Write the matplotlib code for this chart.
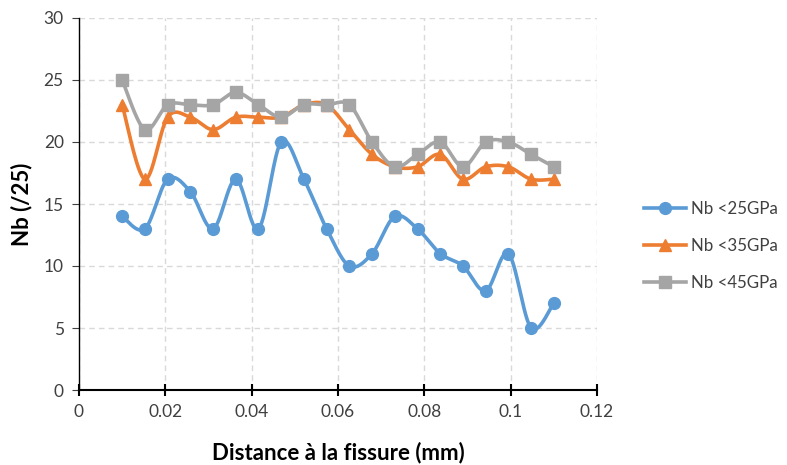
import numpy as np
import matplotlib
matplotlib.use("Agg")
import matplotlib.pyplot as plt

plt.rcParams['font.family'] = ['Lato', 'DejaVu Sans']

x_vals = np.linspace(0.01, 0.11, 20)
nb25 = [14, 13, 17, 16, 13, 17, 13, 20, 17, 13, 10, 11, 14, 13, 11, 10, 8, 11, 5, 7]
nb35 = [23, 17, 22, 22, 21, 22, 22, 22, 23, 23, 21, 19, 18, 18, 19, 17, 18, 18, 17, 17]
nb45 = [25, 21, 23, 23, 23, 24, 23, 22, 23, 23, 23, 20, 18, 19, 20, 18, 20, 20, 19, 18]
labels = ["Nb <25GPa", "Nb <35GPa", "Nb <45GPa"]
colors = ["#5B9BD5", "#ED7D31", "#A5A5A5"]
markers = ["o", "^", "s"]

xlim = (0, 0.12)
ylim = (0, 30)


def smooth(x, y, n=30):
    # Excel-like smoothing (cardinal Bezier) in normalized space
    x = np.asarray(x, float); y = np.asarray(y, float)
    sx = (x - xlim[0]) / (xlim[1] - xlim[0]) * 518
    sy = (y - ylim[0]) / (ylim[1] - ylim[0]) * 372
    P = np.column_stack([sx, sy])
    out = []
    t = np.linspace(0, 1, n)
    for i in range(len(P) - 1):
        p0 = P[i - 1] if i > 0 else P[i]
        p1 = P[i]
        p2 = P[i + 1]
        p3 = P[i + 2] if i + 2 < len(P) else P[i + 1]
        c1 = p1 + (p2 - p0) / 6
        c2 = p2 - (p3 - p1) / 6
        seg = ((1 - t)[:, None] ** 3 * p1 + 3 * ((1 - t) ** 2 * t)[:, None] * c1
               + 3 * ((1 - t) * t ** 2)[:, None] * c2 + (t ** 3)[:, None] * p2)
        out.append(seg if i == 0 else seg[1:])
    S = np.vstack(out)
    return (S[:, 0] / 518 * (xlim[1] - xlim[0]) + xlim[0],
            S[:, 1] / 372 * (ylim[1] - ylim[0]) + ylim[0])


fig = plt.figure(figsize=(7.87, 4.65), dpi=100)
ax = fig.add_axes([79 / 787, 1 - 390 / 465, (597 - 79) / 787, (390 - 18) / 465])

for ys, lab, c, m in zip([nb25, nb35, nb45], labels, colors, markers):
    sxv, syv = smooth(x_vals, ys)
    ax.plot(sxv, syv, color=c, lw=2.6, solid_capstyle='round', zorder=3)
    ax.plot(x_vals, ys, linestyle='none', marker=m, color=c, ms=8.5, zorder=4)
    ax.plot([], [], color=c, lw=2.6, marker=m, ms=8.5, label=lab)

ax.set_xlim(*xlim)
ax.set_ylim(*ylim)
ax.set_xticks(np.arange(0, 0.121, 0.02))
ax.set_xticklabels(["0", "0.02", "0.04", "0.06", "0.08", "0.1", "0.12"])
ax.set_yticks(np.arange(0, 31, 5))
ax.grid(True, color="#D9D9D9", linestyle=(0, (4, 3)), lw=1.0, zorder=0)
for s in ["top", "right"]:
    ax.spines[s].set_visible(False)
ax.spines["left"].set_color("black")
ax.spines["bottom"].set_color("black")
ax.spines["left"].set_linewidth(1.0)
ax.spines["bottom"].set_linewidth(1.5)
ax.tick_params(axis='y', direction='out', length=5, colors="#404040", labelsize=12.5, pad=6)
ax.tick_params(axis='x', direction='inout', length=8, width=1.5, colors="black",
               labelcolor="#404040", labelsize=12.5, pad=6)
for lbl in ax.get_yticklabels():
    lbl.set_color("#404040")

ax.set_xlabel("Distance à la fissure (mm)", fontsize=16, fontweight='bold', labelpad=16)
ax.set_ylabel("Nb (/25)", fontsize=16, fontweight='bold', labelpad=8)

fig.legend(loc='center left', bbox_to_anchor=(630 / 787, 1 - 246 / 465), frameon=False,
           fontsize=12.2, labelspacing=1.25, handlelength=2.5, handletextpad=0.3,
           borderpad=0.3, labelcolor="#404040")

fig.savefig("out.png", dpi=100)
